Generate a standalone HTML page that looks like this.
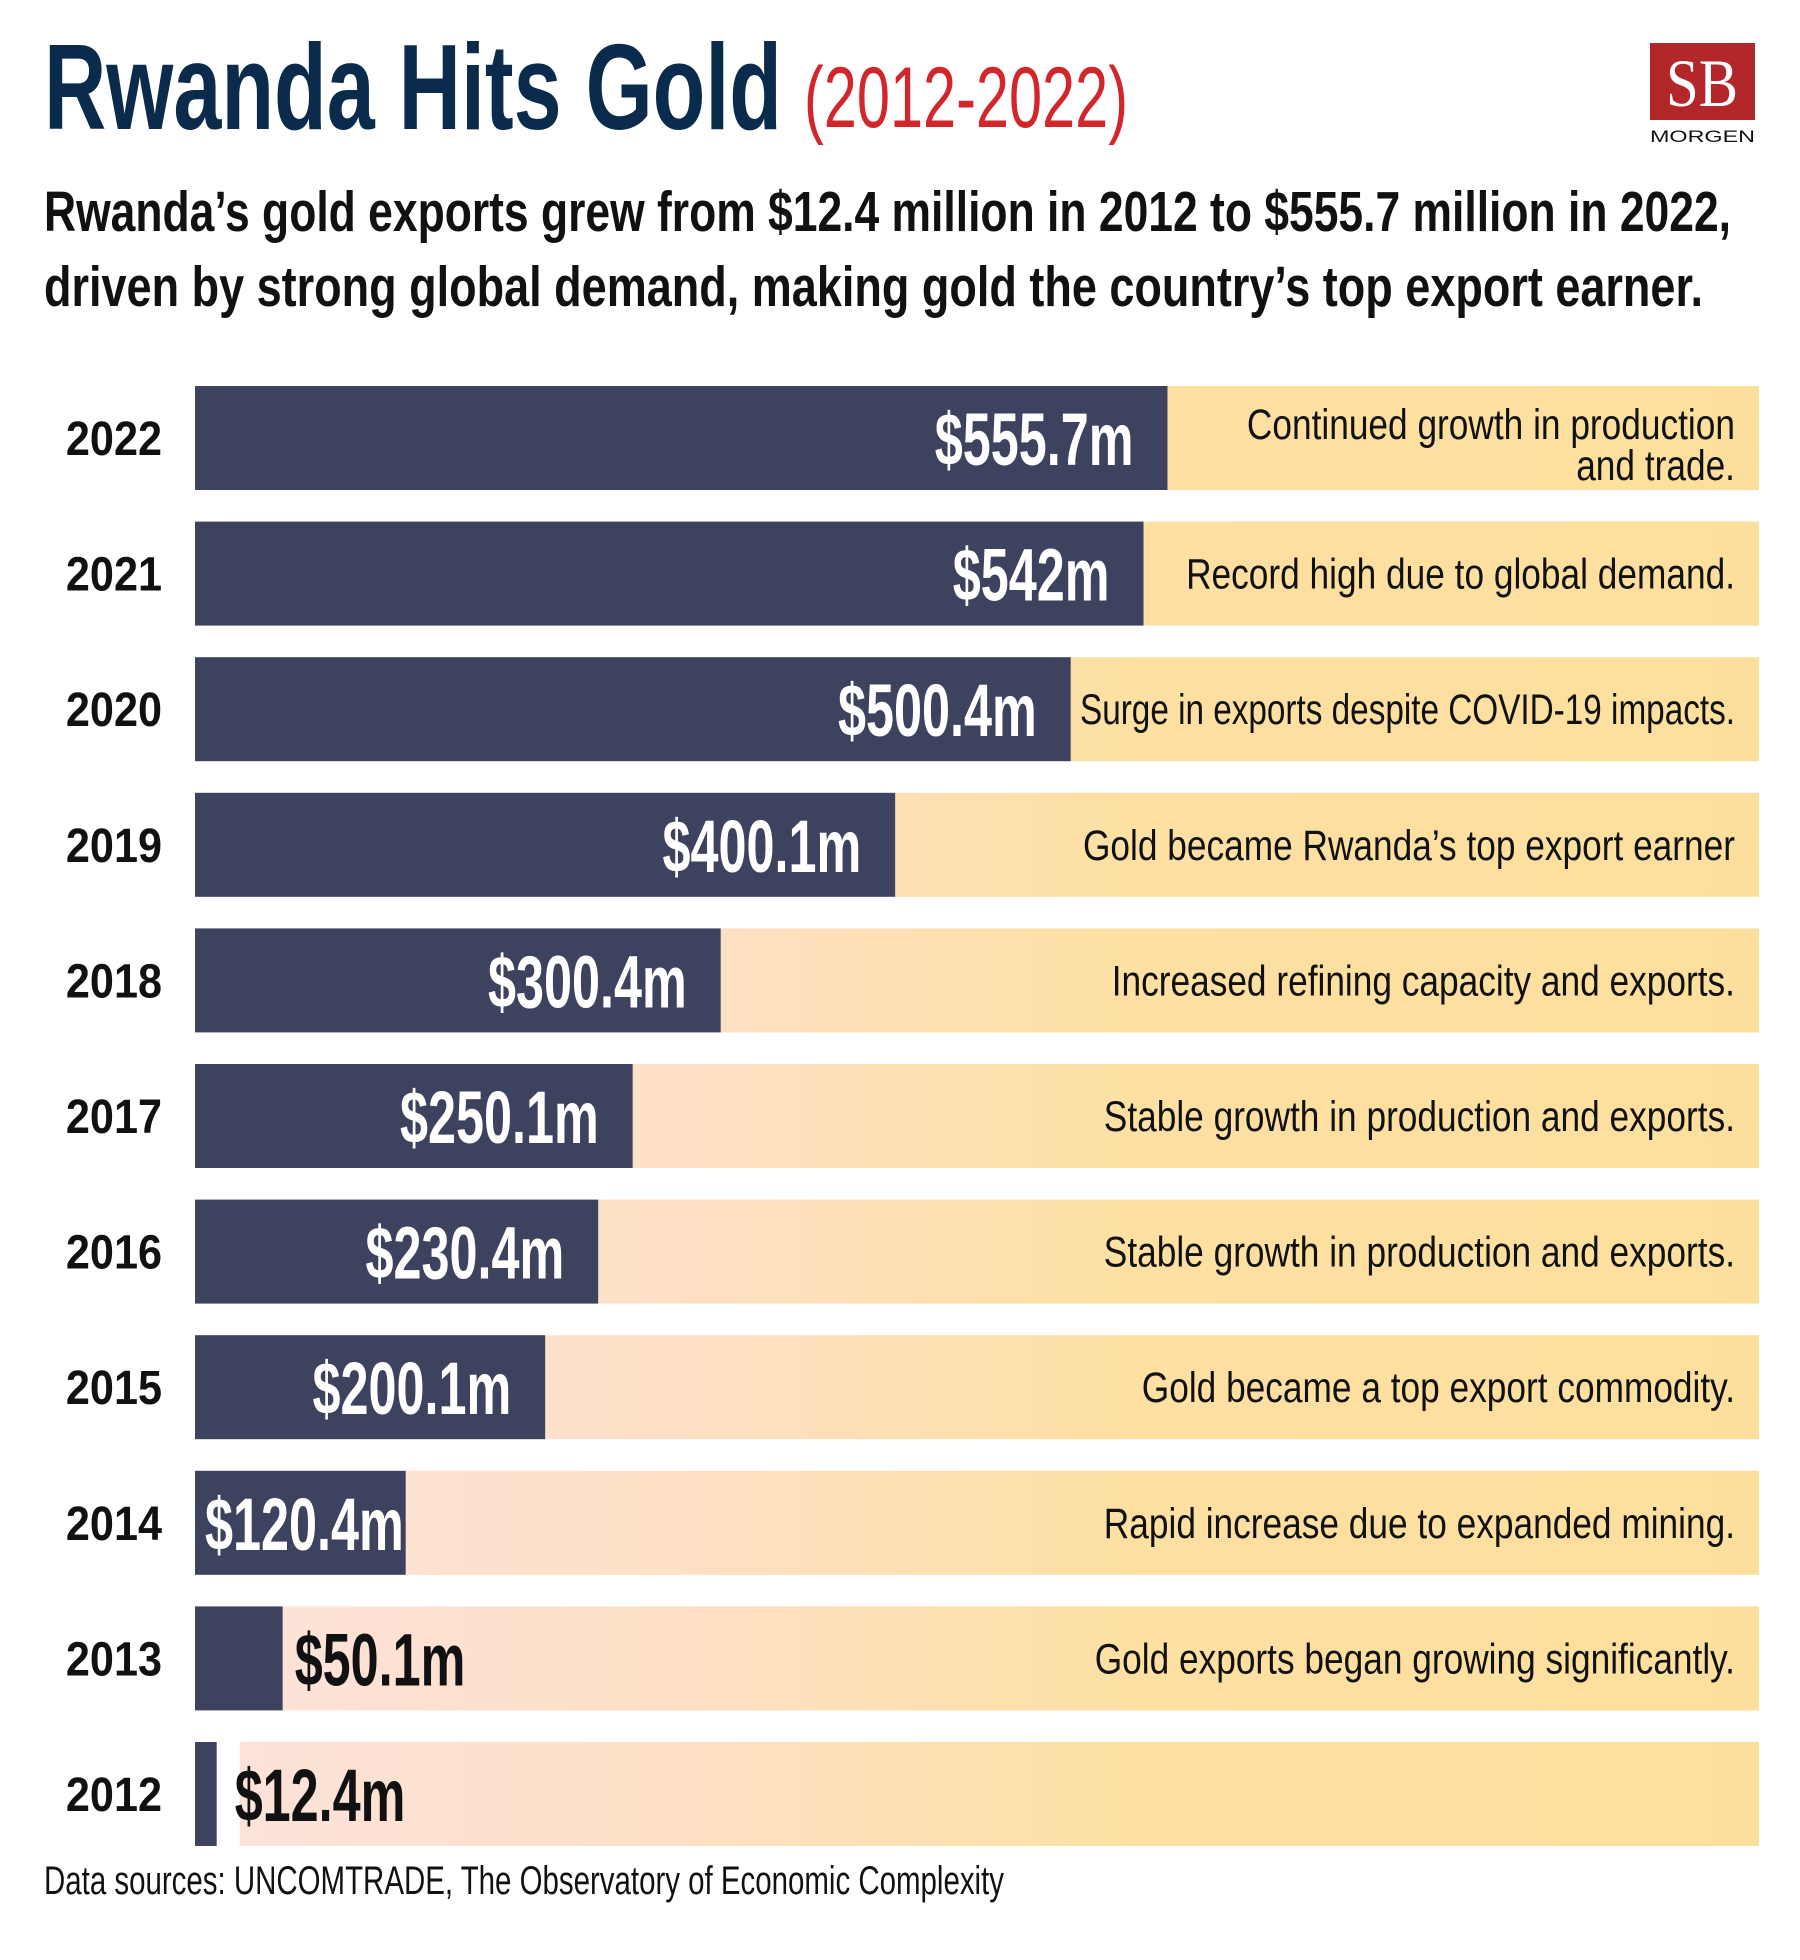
<!DOCTYPE html>
<html><head><meta charset="utf-8">
<style>
html,body{margin:0;padding:0;background:#fff;}
svg{display:block;}
text{font-family:"Liberation Sans",sans-serif;}
</style></head>
<body>
<svg id="chart" width="1800" height="1960" viewBox="0 0 1800 1960" xmlns="http://www.w3.org/2000/svg">
<defs>
<linearGradient id="bg" gradientUnits="userSpaceOnUse" x1="195" y1="0" x2="1759" y2="0">
<stop offset="0" stop-color="#fde3dc"/>
<stop offset="0.3" stop-color="#fde0c6"/>
<stop offset="0.6" stop-color="#fde0a2"/>
<stop offset="1" stop-color="#fddf9d"/>
</linearGradient>
</defs>
<text x="44" y="129" font-size="122" font-weight="bold" fill="#0a2b4c" textLength="738" lengthAdjust="spacingAndGlyphs">Rwanda Hits Gold</text>
<text x="804" y="127" font-size="86" fill="#d2262b" textLength="324" lengthAdjust="spacingAndGlyphs">(2012-2022)</text>
<g>
<rect x="1650" y="43" width="105" height="77" fill="#b3262a"/>
<text x="1702" y="106" font-size="68" fill="#fff" text-anchor="middle" textLength="72" lengthAdjust="spacingAndGlyphs" style="font-family:'Liberation Serif',serif">SB</text>
<text x="1650" y="142" font-size="17" fill="#111" textLength="105" lengthAdjust="spacingAndGlyphs">MORGEN</text>
</g>
<text x="44" y="231" font-size="57" font-weight="bold" fill="#111" textLength="1687" lengthAdjust="spacingAndGlyphs">Rwanda’s gold exports grew from $12.4 million in 2012 to $555.7 million in 2022,</text>
<text x="44" y="306" font-size="57" font-weight="bold" fill="#111" textLength="1659" lengthAdjust="spacingAndGlyphs">driven by strong global demand, making gold the country’s top export earner.</text>
<g id="rows"></g>
<text x="44" y="1894" font-size="40" fill="#111" textLength="960" lengthAdjust="spacingAndGlyphs">Data sources: UNCOMTRADE, The Observatory of Economic Complexity</text>
</svg>
<script>
const years = ["2022","2021","2020","2019","2018","2017","2016","2015","2014","2013","2012"];
const values = [555.7, 542, 500.4, 400.1, 300.4, 250.1, 230.4, 200.1, 120.4, 50.1, 12.4];
const valueLabels = ["$555.7m","$542m","$500.4m","$400.1m","$300.4m","$250.1m","$230.4m","$200.1m","$120.4m","$50.1m","$12.4m"];
const notes = [
 ["Continued growth in production","and trade."],
 ["Record high due to global demand."],
 ["Surge in exports despite COVID-19 impacts."],
 ["Gold became Rwanda’s top export earner"],
 ["Increased refining capacity and exports."],
 ["Stable growth in production and exports."],
 ["Stable growth in production and exports."],
 ["Gold became a top export commodity."],
 ["Rapid increase due to expanded mining."],
 ["Gold exports began growing significantly."],
 []
];
const NS="http://www.w3.org/2000/svg";
const x0=195, xRight=1759, top0=386, pitch=135.6, h=104;
const xScale = v => v*1.75;
const yRow = i => top0 + i*pitch;
const g=document.getElementById('rows');
function mk(tag, attrs){const e=document.createElementNS(NS,tag);for(const k in attrs)e.setAttribute(k,attrs[k]);return e;}
function squeeze(t,k,maxW){let w=t.getComputedTextLength()*k;if(maxW&&w>maxW)w=maxW;t.setAttribute('textLength',w.toFixed(1));t.setAttribute('lengthAdjust','spacingAndGlyphs');return w;}
years.forEach((yr,i)=>{
  const y=yRow(i), w=xScale(values[i]), cy=y+h/2;
  const bgStart = x0 + w + (w<40?23:0);
  const bg=mk('rect',{x:bgStart,y:y,width:xRight-bgStart,height:h,fill:'url(#bg)'});
  
  
  g.appendChild(bg);
  const bar=mk('rect',{x:x0,y:y,width:w,height:h,fill:'#3d425e'});
  
  
  g.appendChild(bar);
  const yl=mk('text',{x:162,y:cy+17,'font-size':48,'font-weight':'bold',fill:'#111','text-anchor':'end'});
  yl.textContent=yr;
  
  
  g.appendChild(yl);
  squeeze(yl,0.9);
  const inside = w>150;
  const vl=mk('text',{x:0, y:cy+27,'font-size':74,'font-weight':'bold',fill: inside?'#fff':'#111','text-anchor':'start'});
  vl.textContent=valueLabels[i];
  
  
  g.appendChild(vl);
  const tw=squeeze(vl,0.68);
  let sx;
  if(inside){ sx = Math.max(x0+w-34-tw, x0+10); }
  else { sx = x0+w+(w<40?18:12); }
  vl.setAttribute('x',sx.toFixed(1));
  const n=notes[i];
  n.forEach((line,j)=>{
    const by = n.length===1 ? cy+15 : cy+1+j*41;
    const t=mk('text',{x:1735,y:by,'font-size':43,fill:'#111','text-anchor':'end'});
    t.textContent=line;
    
    
    g.appendChild(t);
    squeeze(t,0.82,655);
  });
});
</script>
</body></html>
